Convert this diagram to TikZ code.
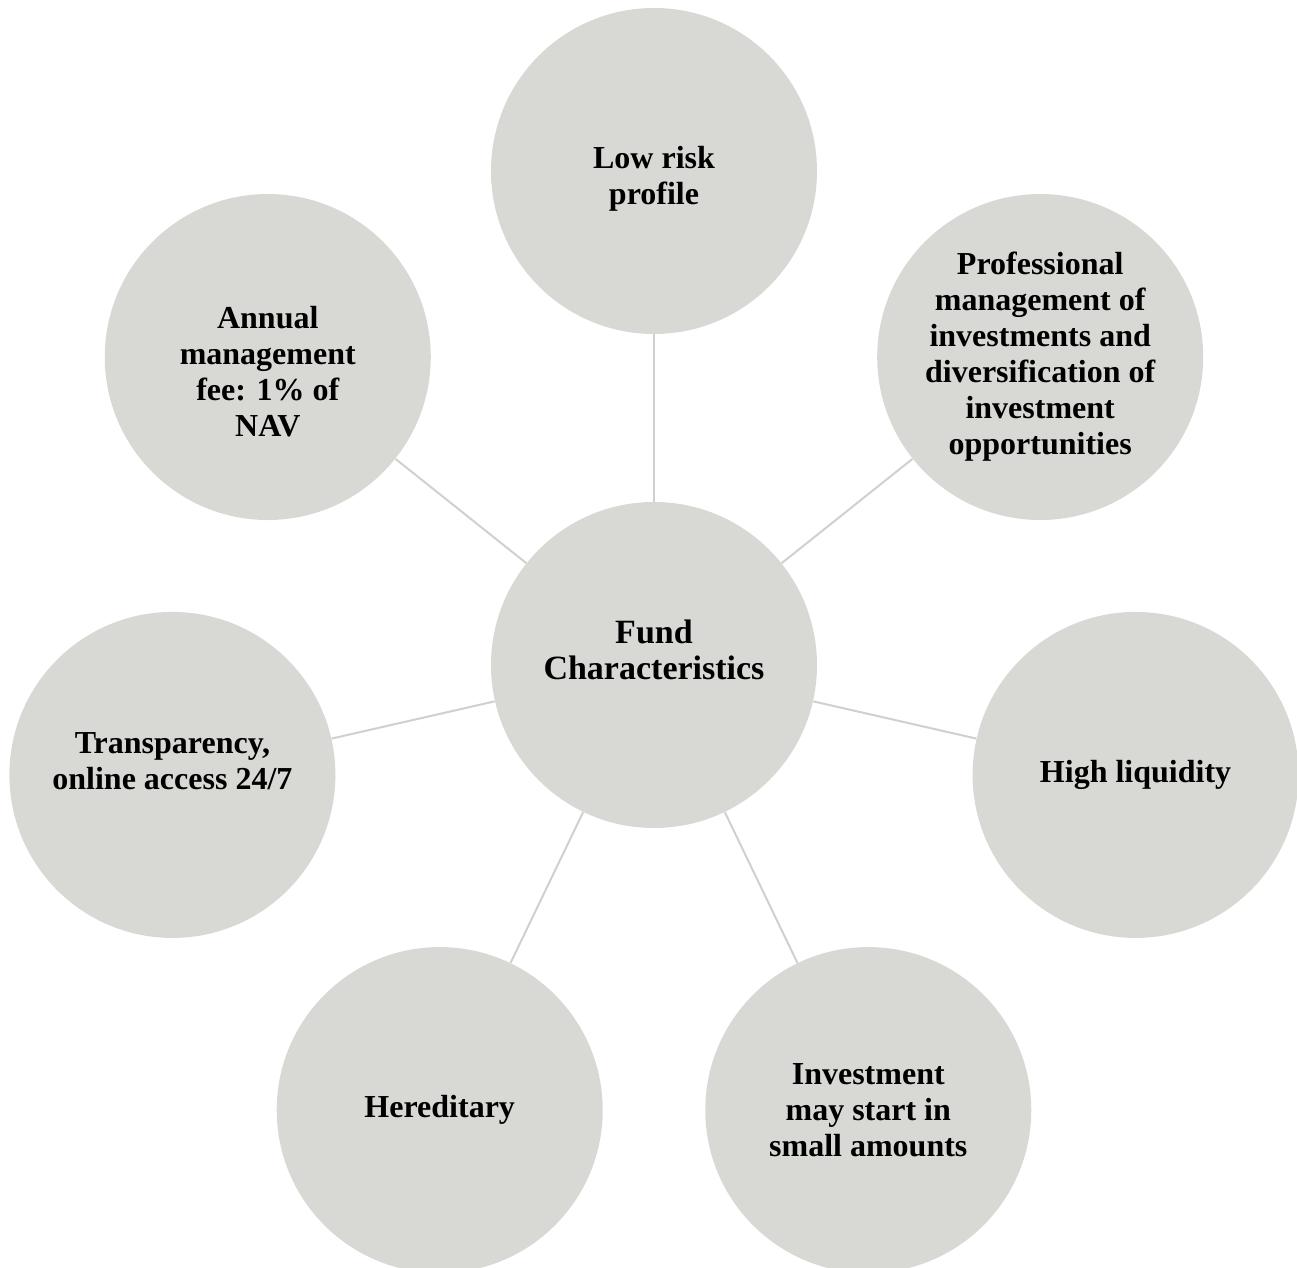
\documentclass[tikz,border=0pt]{standalone}
\usepackage{fontspec}
\setmainfont{Liberation Serif}
\usetikzlibrary{positioning}
\definecolor{bubblegray}{RGB}{216,217,212}
\definecolor{linkgray}{RGB}{208,208,204}
\tikzset{
  bubble/.style={
    circle,
    fill=bubblegray,
    minimum size=163pt,
    inner sep=0pt,
    align=center,
    font=\fontsize{16pt}{18pt}\selectfont\bfseries
  },
  hubbubble/.style={
    bubble,
    font=\fontsize{17pt}{18pt}\selectfont\bfseries
  },
  link/.style={draw=linkgray, line width=1pt}
}

\begin{document}
\begin{tikzpicture}[x=0.5pt,y=0.5pt]
\useasboundingbox (-654,-603) rectangle (643,665);
% struts move the text a little off the circle centre, as in the original
\node[hubbubble] (hub) at (0,0) {Fund\\Characteristics\rule[-15pt]{0pt}{0pt}};
\node[bubble] (risk) at (90:494) {\rule{0pt}{19pt}Low risk\\profile};
\node[bubble] (prof) at (38.57:494) {Professional\\management of\\investments and\\diversification of\\investment\\opportunities};
\node[bubble] (liquid) at (-12.86:494) {High liquidity};
\node[bubble] (small) at (-64.29:494) {Investment\\may start in\\small amounts};
\node[bubble] (hered) at (-115.71:494) {Hereditary};
\node[bubble] (transp) at (-167.14:494) {Transparency,\\online access 24/7\rule[-14pt]{0pt}{0pt}};
\node[bubble] (fee) at (141.43:494) {\rule{0pt}{26pt}Annual\\management\\fee: 1\% of\\NAV};

\draw[link] (hub) -- (risk);
\draw[link] (hub) -- (prof);
\draw[link] (hub) -- (liquid);
\draw[link] (hub) -- (small);
\draw[link] (hub) -- (hered);
\draw[link] (hub) -- (transp);
\draw[link] (hub) -- (fee);
\end{tikzpicture}
\end{document}
